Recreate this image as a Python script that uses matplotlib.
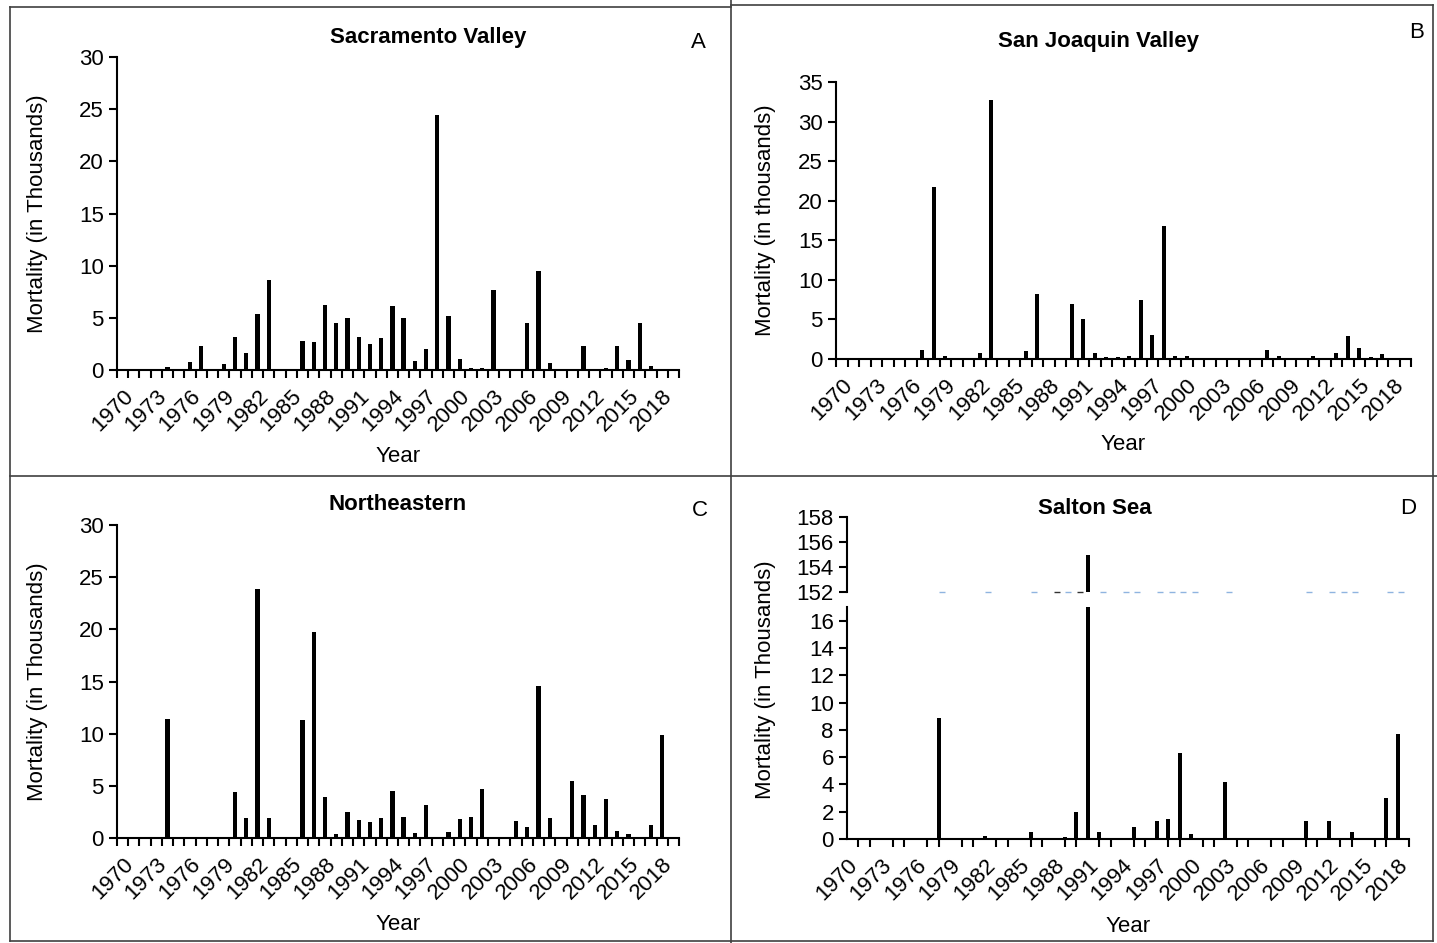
import matplotlib
matplotlib.use("Agg")
import matplotlib.pyplot as plt
from matplotlib.lines import Line2D
import numpy as np

plt.rcParams["font.family"] = ["Liberation Sans", "DejaVu Sans"]

years = list(range(1970, 2020))
tick_years = list(range(1970, 2019, 3))

sacramento = [0, 0, 0, 0, 0.3, 0, 0.8, 2.3, 0, 0.6,
              3.2, 1.6, 5.4, 8.6, 0, 0, 2.8, 2.7, 6.2, 4.5,
              5.0, 3.2, 2.5, 3.1, 6.1, 5.0, 0.9, 2.0, 24.4, 5.2,
              1.1, 0.2, 0.2, 7.7, 0, 0, 4.5, 9.5, 0.7, 0,
              0, 2.3, 0, 0.15, 2.3, 1.0, 4.5, 0.4, 0, 0]
san_joaquin = [0, 0, 0, 0, 0, 0, 0, 1.1, 21.7, 0.4,
               0, 0, 0.8, 32.7, 0, 0, 1.0, 8.2, 0.15, 0,
               7.0, 5.0, 0.7, 0.3, 0.2, 0.4, 7.5, 3.0, 16.8, 0.4,
               0.4, 0.15, 0, 0, 0.15, 0, 0.15, 1.1, 0.4, 0,
               0, 0.4, 0, 0.8, 2.9, 1.4, 0.3, 0.6, 0, 0]
northeastern = [0, 0, 0, 0, 11.4, 0, 0, 0, 0, 0,
                4.4, 1.9, 23.9, 1.9, 0, 0, 11.3, 19.7, 3.9, 0.4,
                2.5, 1.7, 1.5, 1.9, 4.5, 2.0, 0.5, 3.2, 0, 0.6,
                1.8, 2.0, 4.7, 0, 0, 1.6, 1.1, 14.6, 1.9, 0,
                5.5, 4.1, 1.2, 3.7, 0.7, 0.35, 0, 1.2, 9.9, 0]
salton_sea = [0, 0, 0, 0, 0, 0, 0, 0, 8.9, 0,
              0, 0, 0.2, 0, 0, 0, 0.5, 0, 0, 0.15,
              2.0, 155, 0.5, 0, 0, 0.9, 0, 1.3, 1.5, 6.3,
              0.4, 0, 0, 4.2, 0, 0, 0, 0, 0, 0,
              1.3, 0, 1.3, 0, 0.5, 0, 0, 3.0, 7.7, 0]
# leftover markers of the broken-axis helper series in panel D
blue_dash_years = [1978, 1982, 1986, 1989, 1992, 1994, 1995, 1997, 1998, 1999,
                   2000, 2003, 2010, 2012, 2013, 2014, 2017, 2018]
dark_dash_years = [1988, 1990]

W, H = 1437, 943
fig = plt.figure(figsize=(W / 100, H / 100), dpi=100)


def px_axes(x0, x1, y_top, y_bot):
    return fig.add_axes([x0 / W, 1 - y_bot / H, (x1 - x0) / W, (y_bot - y_top) / H])


FS = 16
TFS = 16
x = np.arange(len(years))
tick_pos = [years.index(y) for y in tick_years]


def style(ax, between=True):
    for s in ["top", "right"]:
        ax.spines[s].set_visible(False)
    for s in ["left", "bottom"]:
        ax.spines[s].set_linewidth(1.5)
    ax.tick_params(axis="y", direction="out", length=6, width=1.5, labelsize=FS)
    ax.set_xticks(tick_pos)
    ax.set_xticklabels([str(y) for y in tick_years], rotation=45, ha="right",
                       rotation_mode="anchor", fontsize=FS)
    if between:
        ax.set_xlim(-0.5, len(years) - 0.5)
        ax.set_xticks(np.arange(-0.5, len(years)), minor=True)
    else:
        ax.set_xlim(0, len(years) - 1)
        ax.set_xticks(x, minor=True)
    ax.tick_params(axis="x", which="major", length=0, pad=11)
    ax.tick_params(axis="x", which="minor", direction="out", length=6, width=1.5)


def panel(ax, vals, ymax, step, ylabel, box, xlab_y, ylab_x, between=True, width=0.38):
    x0, x1, y_top, y_bot = box
    ax.bar(x, vals, width=width, color="black")
    ax.set_ylim(0, ymax)
    ax.set_yticks(np.arange(0, ymax + 0.1, step))
    style(ax, between)
    ax.set_xlabel("Year", fontsize=FS, va="center")
    ax.xaxis.set_label_coords(0.5, (y_bot - xlab_y) / (y_bot - y_top))
    if ylabel:
        ax.set_ylabel(ylabel, fontsize=FS, va="center")
        ax.yaxis.set_label_coords((ylab_x - x0) / (x1 - x0), 0.5)
    return ax


boxA = (117, 679, 57, 370)
boxB = (836, 1411, 82, 359)
boxC = (117, 679, 525, 838)
boxD = (847, 1409, 607, 839)

axA = px_axes(*boxA)
panel(axA, sacramento, 30, 5, "Mortality (in Thousands)", boxA, 457, 38)
axB = px_axes(*boxB)
panel(axB, san_joaquin, 35, 5, "Mortality (in thousands)", boxB, 445, 765, width=0.35)
axC = px_axes(*boxC)
panel(axC, northeastern, 30, 5, "Mortality (in Thousands)", boxC, 925, 38)
# D lower and upper (broken axis)
axD = px_axes(*boxD)
panel(axD, salton_sea, 17, 2, "", boxD, 927, 765, between=False, width=0.35)
axD.set_yticks(np.arange(0, 17, 2))
axD2 = px_axes(847, 1409, 517, 592)
axD2.bar(x, salton_sea, width=0.35, color="black")
axD2.set_ylim(152, 158)
axD2.set_yticks([152, 154, 156, 158])
axD2.set_xlim(0, len(years) - 1)
axD2.set_xticks([])
for s in ["top", "right", "bottom"]:
    axD2.spines[s].set_visible(False)
axD2.spines["left"].set_linewidth(1.5)
axD2.tick_params(axis="y", direction="out", length=6, width=1.5, labelsize=FS)
axD2.plot([years.index(y) + 0.3 for y in blue_dash_years], [152] * len(blue_dash_years),
          ls="none", marker="_", ms=5, color="#8fb4e0", clip_on=False)
axD2.plot([years.index(y) + 0.3 for y in dark_dash_years], [152] * len(dark_dash_years),
          ls="none", marker="_", ms=5, color="#333333", clip_on=False)

# titles, letters, D ylabel
fig.text(428 / W, 1 - 37 / H, "Sacramento Valley", ha="center", va="center", fontsize=TFS, weight="bold")
fig.text(1098 / W, 1 - 42 / H, "San Joaquin Valley", ha="center", va="center", fontsize=TFS, weight="bold")
fig.text(398 / W, 1 - 505 / H, "Northeastern", ha="center", va="center", fontsize=TFS, weight="bold")
fig.text(1095 / W, 1 - 508 / H, "Salton Sea", ha="center", va="center", fontsize=TFS, weight="bold")
for lx, ly, t in [(698, 42, "A"), (1417, 32, "B"), (700, 510, "C"), (1408, 508, "D")]:
    fig.text(lx / W, 1 - ly / H, t, ha="center", va="center", fontsize=FS)
fig.text(765 / W, 1 - 680 / H, "Mortality (in Thousands)", rotation=90,
         ha="center", va="center", fontsize=FS)

# panel frame lines
lc = "#404040"
for (xa, ya, xb, yb) in [(10, 7, 10, 941), (10, 7, 731, 7), (731, 5, 1433, 5),
                         (731, 0, 731, 943), (10, 476, 1437, 476), (1433, 5, 1433, 941),
                         (10, 941, 1433, 941)]:
    fig.add_artist(Line2D([xa / W, xb / W], [1 - ya / H, 1 - yb / H], color=lc, lw=1.2))

fig.savefig("out.png", dpi=100)
